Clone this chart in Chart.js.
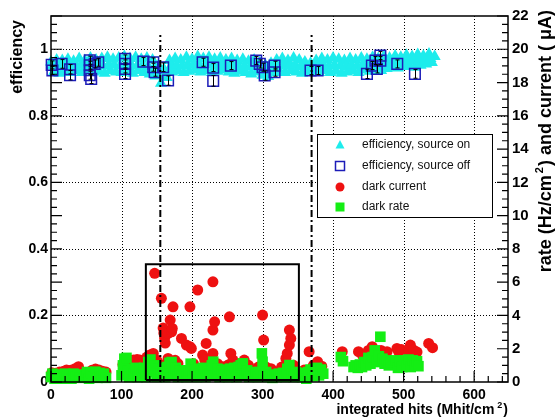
<!DOCTYPE html>
<html>
<head>
<meta charset="utf-8">
<script src="https://cdn.jsdelivr.net/npm/chart.js@4.4.1/dist/chart.umd.min.js"></script>
<style>
html, body { margin: 0; padding: 0; background: #fff; }
canvas { display: block; }
</style>
</head>
<body>
<canvas id="c" width="555" height="419"></canvas>
<script>
// efficiency, source on (cyan triangles) - upper/lower edge of the band
const effOnX = [0, 4, 8, 12, 16, 20, 24, 28, 32, 36, 40, 44, 48, 52, 56, 60, 64, 68, 72, 76,
    80, 84, 88, 92, 96, 100, 104, 108, 112, 116, 120, 124, 128, 132, 136, 140, 144, 148, 152, 156,
    160, 164, 168, 172, 176, 180, 184, 188, 192, 196, 200, 204, 208, 212, 216, 220, 224, 228, 232, 236,
    240, 244, 248, 252, 256, 260, 264, 268, 272, 276, 280, 284, 288, 292, 296, 300, 304, 308, 312, 316,
    320, 324, 328, 332, 336, 340, 344, 348, 352, 356, 360, 364, 368, 372, 376, 380, 384, 388, 392, 396,
    400, 404, 408, 412, 416, 420, 424, 428, 432, 436, 440, 444, 448, 452, 456, 460, 464, 468, 472, 476,
    480, 484, 488, 492, 496, 500, 504, 508, 512, 516, 520, 524, 528, 532, 536, 540, 544];
const effOnY = [0.962, 0.932, 0.968, 0.928, 0.966, 0.934, 0.970, 0.930, 0.964, 0.936, 0.972, 0.930, 0.966, 0.938, 0.974, 0.932, 0.968, 0.934, 0.972, 0.928,
    0.976, 0.936, 0.970, 0.932, 0.974, 0.930, 0.978, 0.934, 0.972, 0.928, 0.976, 0.936, 0.970, 0.930, 0.974, 0.926, 0.968, 0.920, 0.950, 0.898,
    0.940, 0.915, 0.966, 0.932, 0.972, 0.936, 0.968, 0.930, 0.976, 0.934, 0.970, 0.938, 0.978, 0.932, 0.972, 0.936, 0.976, 0.930, 0.970, 0.934,
    0.974, 0.938, 0.968, 0.932, 0.972, 0.928, 0.966, 0.934, 0.970, 0.930, 0.964, 0.926, 0.968, 0.932, 0.960, 0.922, 0.952, 0.918, 0.958, 0.930,
    0.968, 0.934, 0.972, 0.930, 0.966, 0.936, 0.974, 0.932, 0.968, 0.928, 0.962, 0.930, 0.958, 0.934, 0.966, 0.930, 0.972, 0.936, 0.968, 0.930,
    0.974, 0.934, 0.970, 0.928, 0.966, 0.932, 0.972, 0.936, 0.968, 0.930, 0.974, 0.938, 0.970, 0.934, 0.976, 0.940, 0.972, 0.936, 0.978, 0.942,
    0.974, 0.946, 0.980, 0.944, 0.976, 0.948, 0.982, 0.950, 0.978, 0.946, 0.984, 0.952, 0.980, 0.956, 0.986, 0.960, 0.978];
// efficiency, source on - middle of the band
const effOnMidX = [2, 10, 18, 26, 34, 42, 50, 58, 66, 74, 82, 90, 98, 106, 114, 122, 130, 138, 146, 154,
    162, 170, 178, 186, 194, 202, 210, 218, 226, 234, 242, 250, 258, 266, 274, 282, 290, 298, 306, 314,
    322, 330, 338, 346, 354, 362, 370, 378, 386, 394, 402, 410, 418, 426, 434, 442, 450, 458, 466, 474,
    482, 490, 498, 506, 514, 522, 530, 538];
const effOnMidY = [0.950, 0.948, 0.952, 0.950, 0.948, 0.952, 0.954, 0.950, 0.952, 0.950, 0.954, 0.952, 0.950, 0.954, 0.952, 0.950, 0.952, 0.948, 0.944, 0.925,
    0.930, 0.948, 0.952, 0.950, 0.954, 0.952, 0.955, 0.952, 0.954, 0.950, 0.954, 0.950, 0.952, 0.948, 0.950, 0.946, 0.948, 0.942, 0.935, 0.944,
    0.950, 0.952, 0.950, 0.952, 0.948, 0.946, 0.946, 0.948, 0.952, 0.950, 0.952, 0.950, 0.948, 0.952, 0.950, 0.954, 0.952, 0.956, 0.955, 0.958,
    0.960, 0.962, 0.962, 0.965, 0.964, 0.968, 0.968, 0.972];

// efficiency, source off (open blue squares with error bars)
const effOffX = [1, 2, 15, 27, 27, 55, 55, 55, 55, 57, 62, 67, 105, 105, 105, 105, 131, 145, 145, 147, 159,
    166, 215, 230, 230, 255, 291, 296, 300, 303, 317, 317, 368, 378, 448, 455, 460, 462, 467, 467, 491, 516];
const effOffY = [0.953, 0.936, 0.956, 0.940, 0.922, 0.967, 0.952, 0.937, 0.922, 0.911, 0.956, 0.961, 0.971, 0.956, 0.941, 0.926, 0.963, 0.961, 0.946, 0.931, 0.946,
    0.906, 0.961, 0.945, 0.905, 0.951, 0.966, 0.956, 0.946, 0.921, 0.951, 0.931, 0.936, 0.936, 0.926, 0.951, 0.966, 0.941, 0.981, 0.966, 0.956, 0.926];
const effOffErr = [0.012, 0.012, 0.013, 0.014, 0.014, 0.012, 0.012, 0.012, 0.012, 0.014, 0.012, 0.012, 0.012, 0.012, 0.012, 0.014, 0.012, 0.013, 0.012, 0.012, 0.013,
    0.014, 0.012, 0.012, 0.016, 0.012, 0.012, 0.012, 0.012, 0.014, 0.013, 0.012, 0.012, 0.012, 0.014, 0.012, 0.012, 0.012, 0.012, 0.012, 0.012, 0.013];

// dark current (red circles, right axis)
const curX = [1, 6, 12, 18, 22, 28, 34, 39, 44, 52, 58, 63, 68, 73, 78,
    102, 108, 113, 117, 122, 126, 131,
    136, 140, 145, 147, 150, 156.5, 159, 160, 161, 162, 163, 166, 166, 169, 171, 172, 173, 176, 180, 185, 192, 197, 199, 197,
    202, 208, 215, 218, 220, 224, 229.6, 229.6, 229.6, 232, 236, 243, 248, 251, 253, 255, 258, 263, 268, 274, 280, 288, 294,
    300, 301.5, 305, 312, 321, 327, 333, 335, 338, 338, 340, 344,
    359, 366, 372, 378, 384,
    413, 436, 442, 450, 455.5, 462, 468, 476.5, 490.5, 493, 497, 507, 509.6, 514, 519, 535.5, 541];
const curY = [0.55, 0.52, 0.60, 0.65, 0.72, 0.70, 0.80, 0.92, 0.50, 0.55, 0.70, 0.78, 0.72, 0.65, 0.60,
    1.05, 1.20, 1.30, 1.32, 1.35, 1.32, 1.25,
    1.50, 1.62, 1.72, 6.53, 1.30, 5.03, 3.24, 2.94, 2.64, 2.34, 1.10, 2.92, 1.42, 3.72, 3.02, 3.22, 4.52, 1.30, 1.10, 2.62, 2.22, 4.52, 2.02, 2.12,
    1.10, 5.53, 1.62, 1.32, 2.32, 1.00, 6.02, 3.12, 1.72, 3.62, 1.10, 0.92, 0.82, 1.02, 3.92, 1.72, 1.32, 1.00, 1.10, 1.32, 1.00, 0.72, 0.90,
    4.02, 2.52, 0.90, 0.80, 0.62, 0.90, 1.42, 1.72, 2.22, 3.12, 2.62, 1.00,
    0.72, 1.82, 1.00, 1.22, 0.95,
    1.82, 1.82, 1.60, 1.90, 2.12, 1.80, 1.90, 1.82, 2.02, 1.82, 1.95, 1.82, 2.22, 1.92, 1.80, 2.32, 2.06];

// dark rate (green squares, right axis)
const rateX = [0, 2, 5, 8, 11, 14, 17, 20, 23, 26, 29, 32, 35, 38, 41,
    48, 51, 54, 57, 60, 63, 66, 69, 72, 75, 78,
    100, 102, 104, 107, 109, 111, 114, 117, 120, 123, 126, 129, 132, 135,
    138, 141, 144, 147, 150, 153, 156, 159, 162, 165, 168, 171, 174, 177, 180, 183, 186, 189, 192, 195,
    198, 201, 204, 207, 210, 213, 216, 219, 222, 225, 228, 230, 233, 236, 239, 242, 245, 248, 251, 254,
    257, 260, 263, 266, 269, 272, 275, 278, 281, 284, 287, 290, 293, 296, 299, 300, 302, 305, 308, 311,
    314, 317, 320, 323, 326, 329, 332, 335, 338, 341, 344, 347,
    356, 359, 362, 365, 368, 371, 374, 377, 380, 383, 386,
    411, 414,
    429, 432, 435, 438, 441, 444, 447, 450, 453, 456, 459, 462, 465, 467, 470, 473, 476, 479, 482,
    489, 492, 495, 498, 501, 504, 507, 510, 513, 516, 519, 521];
const rateY = [0.30, 0.50, 0.20, 0.45, 0.25, 0.40, 0.20, 0.50, 0.30, 0.45, 0.20, 0.50, 0.30, 0.45, 0.25,
    0.30, 0.60, 0.20, 0.55, 0.30, 0.62, 0.25, 0.55, 0.30, 0.50, 0.25,
    0.40, 1.00, 1.40, 1.45, 0.70, 0.30, 0.80, 0.50, 0.85, 0.30, 0.80, 0.50, 0.85, 0.30,
    1.20, 1.35, 0.60, 1.00, 0.30, 0.80, 0.40, 0.85, 0.30, 0.90, 1.15, 1.20, 0.50, 0.85, 0.30, 0.70, 0.40, 0.60, 0.30, 0.70,
    1.10, 0.40, 0.75, 0.30, 0.80, 0.40, 0.85, 0.30, 0.80, 0.50, 1.00, 1.22, 0.40, 0.80, 0.30, 0.70, 0.40, 0.75, 0.30, 0.80,
    0.40, 0.85, 0.30, 0.90, 1.00, 1.12, 0.40, 0.70, 0.30, 0.60, 0.35, 0.50, 0.30, 0.60, 1.72, 1.22, 0.40, 0.60, 0.30, 0.45,
    0.25, 0.40, 0.30, 0.50, 0.35, 0.55, 0.30, 0.80, 1.02, 0.50, 0.30, 0.60,
    0.30, 0.55, 0.20, 0.60, 0.75, 0.35, 0.80, 0.85, 0.40, 0.75, 0.50,
    1.50, 1.25,
    0.90, 1.00, 0.85, 1.05, 0.90, 1.20, 1.00, 1.45, 1.10, 1.50, 1.90, 1.20, 1.55, 2.72, 1.40, 1.10, 1.30, 1.00, 1.20,
    1.30, 0.85, 1.25, 0.90, 1.30, 1.00, 1.35, 0.90, 1.30, 1.00, 1.25, 0.95];

// selection box and dash-dot markers (left axis units)
const boxX = [134.5, 134.5, 351.5, 351.5, 134.5];
const boxY = [0.006, 0.354, 0.354, 0.006, 0.006];
const markX = [155, 369.5];
const markTop = 1.043;

const xTicks = [0, 100, 200, 300, 400, 500, 600];
const yTicks = [0, 0.2, 0.4, 0.6, 0.8, 1];
const y2Ticks = [0, 2, 4, 6, 8, 10, 12, 14, 16, 18, 20, 22];
const legendLabels = ['efficiency, source on', 'efficiency, source off', 'dark current', 'dark rate'];

const FONT = '"Liberation Sans", Arial, Helvetica, sans-serif';
const CYAN = '#1eecec', BLUE = '#1c1cb8', RED = '#ee1111', GREEN = '#14ee14';

function pts(xs, ys) {
    return xs.map(function (x, i) { return {x: x, y: ys[i]}; });
}

function drawParts(ctx, parts, x, y) {
    parts.forEach(function (p) {
        ctx.font = p.font;
        ctx.fillText(p.text, x + (p.pre || 0), y - (p.rise || 0));
        x += (p.pre || 0) + ctx.measureText(p.text).width;
    });
}
function partsWidth(ctx, parts) {
    return parts.reduce(function (w, p) {
        ctx.font = p.font;
        return w + (p.pre || 0) + ctx.measureText(p.text).width;
    }, 0);
}

const framePlugin = {
    id: 'frame',
    beforeDatasetsDraw: function (chart) {
        const ctx = chart.ctx, a = chart.chartArea;
        const xs = chart.scales.x, ys = chart.scales.y;
        ctx.save();
        ctx.strokeStyle = '#000';
        ctx.lineWidth = 1;
        ctx.setLineDash([1, 2]);
        xTicks.slice(1).forEach(function (v) {
            const px = Math.round(xs.getPixelForValue(v)) + 0.5;
            ctx.beginPath(); ctx.moveTo(px, a.top); ctx.lineTo(px, a.bottom); ctx.stroke();
        });
        yTicks.slice(1).forEach(function (v) {
            const py = Math.round(ys.getPixelForValue(v)) + 0.5;
            ctx.beginPath(); ctx.moveTo(a.left, py); ctx.lineTo(a.right, py); ctx.stroke();
        });
        ctx.restore();
    },
    afterDatasetsDraw: function (chart) {
        const ctx = chart.ctx;
        const ys = chart.scales.y;
        const meta = chart.getDatasetMeta(2);
        ctx.save();
        ctx.strokeStyle = '#000';
        ctx.lineWidth = 1;
        meta.data.forEach(function (el, i) {
            const y1 = ys.getPixelForValue(effOffY[i] + effOffErr[i]);
            const y2 = ys.getPixelForValue(effOffY[i] - effOffErr[i]);
            const x = Math.round(el.x) + 0.5;
            ctx.beginPath();
            ctx.moveTo(x, y1); ctx.lineTo(x, y2);
            ctx.moveTo(x - 2, y1); ctx.lineTo(x + 2, y1);
            ctx.moveTo(x - 2, y2); ctx.lineTo(x + 2, y2);
            ctx.stroke();
        });
        ctx.restore();
    },
    afterDraw: function (chart) {
        const ctx = chart.ctx, a = chart.chartArea;
        const xs = chart.scales.x, ys = chart.scales.y, y2s = chart.scales.y2;
        ctx.save();
        // frame
        ctx.strokeStyle = '#000';
        ctx.lineWidth = 1.5;
        ctx.strokeRect(a.left, a.top, a.right - a.left, a.bottom - a.top);
        // inward tick marks
        ctx.lineWidth = 1.2;
        ctx.beginPath();
        for (let k = 0; k <= 44; k++) {
            const py = ys.getPixelForValue(k * 0.025);
            const len = (k % 4 === 0) ? 11 : 6;
            ctx.moveTo(a.left, py); ctx.lineTo(a.left + len, py);
        }
        for (let k = 0; k <= 44; k++) {
            const py = y2s.getPixelForValue(k * 0.5);
            const len = (k % 4 === 0) ? 11 : 6;
            ctx.moveTo(a.right, py); ctx.lineTo(a.right - len, py);
        }
        for (let k = 0; k <= 32; k++) {
            const px = xs.getPixelForValue(k * 20);
            const len = (k % 5 === 0) ? 11 : 6;
            ctx.moveTo(px, a.bottom); ctx.lineTo(px, a.bottom - len);
        }
        ctx.stroke();

        // axis titles
        ctx.fillStyle = '#000';
        ctx.textBaseline = 'alphabetic';
        ctx.textAlign = 'left';
        const bold = function (s) { return 'bold ' + s + 'px ' + FONT; };
        const xt = [
            {text: 'integrated hits (Mhit/cm', font: bold(14)},
            {text: '2', font: bold(9), rise: 6, pre: 3},
            {text: ')', font: bold(14), pre: 1}
        ];
        drawParts(ctx, xt, a.right - partsWidth(ctx, xt), 414);

        ctx.save();
        ctx.translate(22, 20);
        ctx.rotate(-Math.PI / 2);
        const yt = [{text: 'efficiency', font: bold(16)}];
        drawParts(ctx, yt, -partsWidth(ctx, yt), 0);
        ctx.restore();

        ctx.save();
        ctx.translate(551, 10);
        ctx.rotate(-Math.PI / 2);
        const rt = [
            {text: 'rate (Hz/cm', font: bold(18)},
            {text: '2', font: bold(11), rise: 8, pre: 2},
            {text: ') and current ( \u03bcA)', font: bold(18), pre: 1}
        ];
        drawParts(ctx, rt, -partsWidth(ctx, rt), 0);
        ctx.restore();

        // legend
        const lx = 317, ly = 134, lw = 175, lh = 83;
        ctx.fillStyle = '#fff';
        ctx.fillRect(lx, ly, lw, lh);
        ctx.strokeStyle = '#000';
        ctx.lineWidth = 1;
        ctx.strokeRect(lx + 0.5, ly + 0.5, lw, lh);
        const rows = [145, 166, 187, 207];
        const mx = 340;
        ctx.fillStyle = CYAN;
        ctx.beginPath();
        ctx.moveTo(mx, rows[0] - 5); ctx.lineTo(mx + 4.5, rows[0] + 3.5); ctx.lineTo(mx - 4.5, rows[0] + 3.5);
        ctx.closePath(); ctx.fill();
        ctx.strokeStyle = BLUE; ctx.lineWidth = 1.5;
        ctx.strokeRect(mx - 4.5, rows[1] - 4.5, 9, 9);
        ctx.fillStyle = RED;
        ctx.beginPath(); ctx.arc(mx, rows[2], 4.5, 0, Math.PI * 2); ctx.fill();
        ctx.fillStyle = GREEN;
        ctx.fillRect(mx - 4.5, rows[3] - 4.5, 9, 9);
        ctx.fillStyle = '#111';
        ctx.font = '12px ' + FONT;
        ctx.textBaseline = 'middle';
        legendLabels.forEach(function (t, i) { ctx.fillText(t, 362, rows[i]); });
        ctx.restore();
    }
};

const lineStyle = {showLine: true, pointRadius: 0, borderColor: '#000', fill: false, order: 1, clip: false};

new Chart(document.getElementById('c'), {
    type: 'scatter',
    data: {
        datasets: [
            {label: legendLabels[0], data: pts(effOnX, effOnY), yAxisID: 'y', pointStyle: 'triangle',
             pointRadius: 7, backgroundColor: CYAN, borderColor: CYAN, borderWidth: 0, order: 7, clip: false},
            {label: legendLabels[0], data: pts(effOnMidX, effOnMidY), yAxisID: 'y', pointStyle: 'triangle',
             pointRadius: 7, backgroundColor: CYAN, borderColor: CYAN, borderWidth: 0, order: 6, clip: false},
            {label: legendLabels[1], data: pts(effOffX, effOffY), yAxisID: 'y', pointStyle: 'rect',
             pointRadius: 7.5, backgroundColor: 'rgba(0,0,0,0)', borderColor: BLUE, borderWidth: 1.5, order: 5, clip: false},
            {label: legendLabels[2], data: pts(curX, curY), yAxisID: 'y2', pointStyle: 'circle',
             pointRadius: 5.5, backgroundColor: RED, borderColor: RED, borderWidth: 0, order: 4, clip: false},
            {label: legendLabels[3], data: pts(rateX, rateY), yAxisID: 'y2', pointStyle: 'rect',
             pointRadius: 7.5, backgroundColor: GREEN, borderColor: GREEN, borderWidth: 0, order: 3, clip: false},
            Object.assign({label: 'box', data: pts(boxX, boxY), yAxisID: 'y', borderWidth: 2}, lineStyle),
            Object.assign({label: 'mark1', data: pts([markX[0], markX[0]], [0, markTop]), yAxisID: 'y',
                borderWidth: 2, borderDash: [7, 3, 2, 3]}, lineStyle),
            Object.assign({label: 'mark2', data: pts([markX[1], markX[1]], [0, markTop]), yAxisID: 'y',
                borderWidth: 2, borderDash: [7, 3, 2, 3]}, lineStyle)
        ]
    },
    options: {
        responsive: false,
        animation: false,
        devicePixelRatio: 1,
        layout: {padding: {top: 16, left: 0, right: 0, bottom: 0}},
        plugins: {legend: {display: false}, tooltip: {enabled: false}},
        scales: {
            x: {
                type: 'linear', min: 0, max: 648,
                grid: {display: false, drawTicks: false}, border: {display: false},
                afterBuildTicks: function (s) { s.ticks = xTicks.map(function (v) { return {value: v}; }); },
                afterFit: function (s) { s.height = 37; },
                ticks: {padding: 5, color: '#000', font: {family: FONT, size: 14, weight: 'bold'}, maxRotation: 0}
            },
            y: {
                type: 'linear', position: 'left', min: 0, max: 1.1,
                grid: {display: false, drawTicks: false}, border: {display: false},
                afterBuildTicks: function (s) { s.ticks = yTicks.map(function (v) { return {value: v}; }); },
                afterFit: function (s) { s.width = 51; },
                ticks: {padding: 3, color: '#000', font: {family: FONT, size: 14, weight: 'bold'},
                        callback: function (v) { return String(v); }}
            },
            y2: {
                type: 'linear', position: 'right', min: 0, max: 22,
                grid: {display: false, drawTicks: false}, border: {display: false},
                afterBuildTicks: function (s) { s.ticks = y2Ticks.map(function (v) { return {value: v}; }); },
                afterFit: function (s) { s.width = 47; },
                ticks: {padding: 4, color: '#000', font: {family: FONT, size: 15, weight: 'bold'}}
            }
        }
    },
    plugins: [framePlugin]
});
</script>
</body>
</html>
